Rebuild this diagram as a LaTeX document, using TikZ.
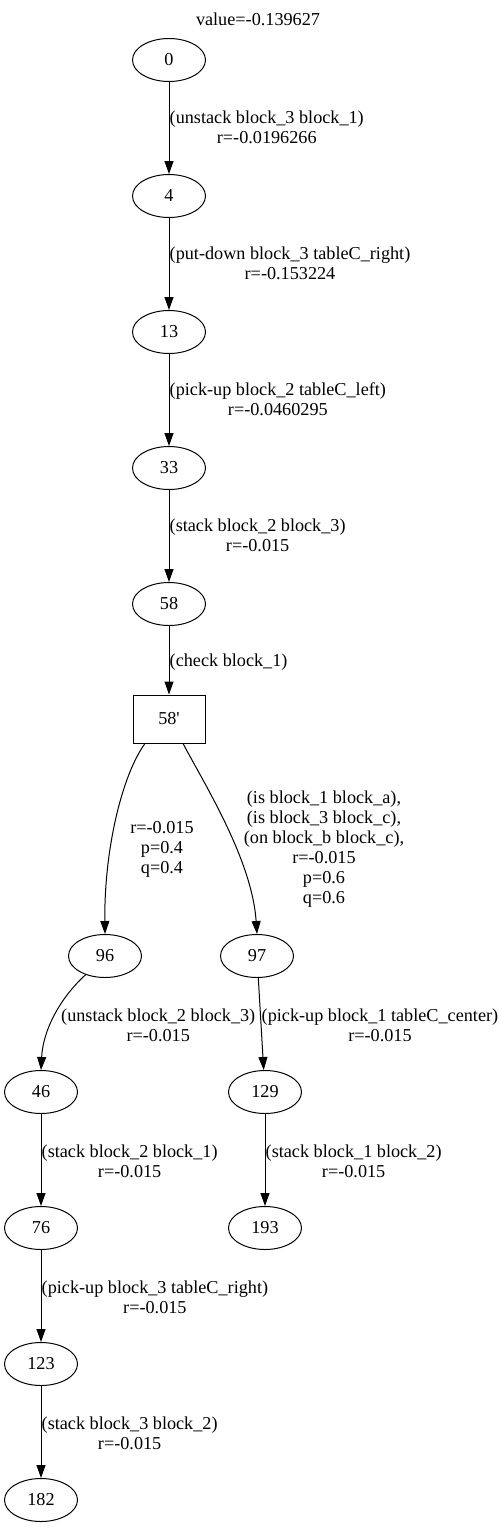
\documentclass[tikz,border=0pt]{standalone}
\usepackage{fontspec}
\setmainfont{Liberation Serif}
\usetikzlibrary{shapes.geometric,arrows.meta}
\begin{document}
\begin{tikzpicture}[x=1pt,y=-1pt,
  every node/.style={font=\fontsize{18.2}{20}\selectfont},
  st/.style={ellipse,draw,line width=1pt,minimum width=73pt,minimum height=43pt,inner sep=0pt},
  bx/.style={rectangle,draw,line width=1pt,minimum width=72pt,minimum height=48pt,inner sep=0pt},
  lbl/.style={align=center,inner sep=0pt},
  lw/.style={align=center,inner sep=0pt,anchor=west},
  edge/.style={draw,line width=1pt,-{Triangle[length=13pt,width=9pt]}}]
\useasboundingbox (0,0) rectangle (503,1531);
\node[lbl] (val) at (258,19) {value=-0.139627};
\node[st] (n0) at (169,60) {0};
\node[st] (n4) at (169,196) {4};
\node[st] (n13) at (169,332) {13};
\node[st] (n33) at (169,468) {33};
\node[st] (n58) at (169,604) {58};
\node[bx] (b58) at (169,719) {58\textquotesingle};
\node[st] (n96) at (105,956) {96};
\node[st] (n97) at (257,956) {97};
\node[st] (n46) at (41,1092) {46};
\node[st] (n129) at (265,1092) {129};
\node[st] (n76) at (41,1228) {76};
\node[st] (n193) at (265,1228) {193};
\node[st] (n123) at (41,1364) {123};
\node[st] (n182) at (41,1500) {182};

\draw[edge] (n0) -- (n4);
\draw[edge] (n4) -- (n13);
\draw[edge] (n13) -- (n33);
\draw[edge] (n33) -- (n58);
\draw[edge] (n58) -- (b58);
\draw[edge] ([xshift=-24pt]b58.south) .. controls (122,775) and (104,850) .. (n96.north);
\draw[edge] ([xshift=14pt]b58.south) .. controls (205,785) and (252,860) .. (n97.north);
\draw[edge] (n96.-136) .. controls (60,998) and (43,1030) .. (n46.north);
\draw[edge] (n97) -- (n129);
\draw[edge] (n46) -- (n76);
\draw[edge] (n129) -- (n193);
\draw[edge] (n76) -- (n123);
\draw[edge] (n123) -- (n182);

\node[lw] (l1) at (169.5,127.5) {(unstack block\_3 block\_1)\\r=-0.0196266};
\node[lw] (l2) at (169.5,263.5) {(put-down block\_3 tableC\_right)\\r=-0.153224};
\node[lw] (l3) at (169.5,399.5) {(pick-up block\_2 tableC\_left)\\r=-0.0460295};
\node[lw] (l4) at (169.5,535.5) {(stack block\_2 block\_3)\\r=-0.015};
\node[lw] (l5) at (169.5,662) {(check block\_1)};
\node[lbl] (l6) at (162,849) {r=-0.015\\p=0.4\\q=0.4};
\node[lbl] (l7) at (324,849) {(is block\_1 block\_a),\\(is block\_3 block\_c),\\(on block\_b block\_c),\\r=-0.015\\p=0.6\\q=0.6};
\node[lw] (l8) at (61,1025) {(unstack block\_2 block\_3)\\r=-0.015};
\node[lw] (l9) at (261.5,1025) {(pick-up block\_1 tableC\_center)\\r=-0.015};
\node[lw] (l10) at (41.5,1161) {(stack block\_2 block\_1)\\r=-0.015};
\node[lw] (l11) at (265.5,1161) {(stack block\_1 block\_2)\\r=-0.015};
\node[lw] (l12) at (41.5,1297) {(pick-up block\_3 tableC\_right)\\r=-0.015};
\node[lw] (l13) at (41.5,1433) {(stack block\_3 block\_2)\\r=-0.015};
\end{tikzpicture}
\end{document}
